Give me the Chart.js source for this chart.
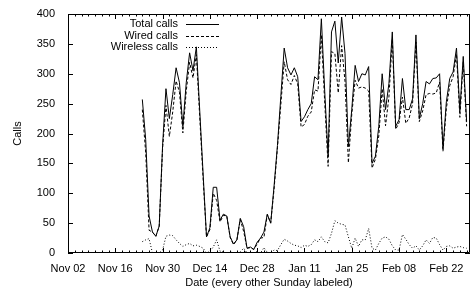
<!DOCTYPE html>
<html>
<head>
<meta charset="utf-8">
<script src="https://cdn.jsdelivr.net/npm/chart.js@4/dist/chart.umd.min.js"></script>
<style>
  html, body { margin: 0; padding: 0; background: #fff; }
</style>
</head>
<body>
<canvas id="calls" width="470" height="290"></canvas>
<script>
// days counted from Sun Nov 02; first sample is Nov 24
var firstDay = 22;
var lastDay = 119;
var tickLabels = ["Nov 02", "Nov 16", "Nov 30", "Dec 14", "Dec 28", "Jan 11", "Jan 25", "Feb 08", "Feb 22"];
var seriesNames = ["Total calls", "Wired calls", "Wireless calls"];

var totalCalls = [
    257, 190, 62, 35, 28, 45, 180, 275, 225, 265, 310, 285, 212, 285, 335, 305,
    345, 238, 132, 27, 42, 110, 110, 55, 65, 62, 27, 15, 22, 58, 44, 8,
    10, 6, 18, 25, 35, 65, 50, 112, 180, 262, 343, 310, 298, 310, 295, 220,
    228, 240, 250, 295, 290, 392, 270, 162, 370, 388, 318, 395, 334, 178, 240, 314,
    287, 300, 298, 312, 150, 162, 212, 300, 240, 284, 370, 212, 223, 292, 240, 240,
    258, 365, 225, 250, 287, 283, 292, 293, 300, 175, 253, 292, 303, 343, 238, 329,
    220
];
var wiredCalls = [
    240, 168, 38, 35, 28, 45, 175, 247, 195, 236, 288, 269, 201, 271, 319, 293,
    332, 227, 124, 27, 39, 100, 88, 52, 63, 62, 26, 14, 22, 56, 36, 8,
    9, 6, 15, 25, 26, 64, 50, 107, 176, 248, 320, 290, 282, 297, 283, 211,
    215, 229, 236, 273, 271, 365, 251, 145, 337, 334, 268, 347, 287, 151, 232, 289,
    276, 278, 276, 271, 142, 157, 196, 275, 213, 261, 358, 207, 218, 261, 217, 226,
    250, 353, 220, 238, 265, 267, 266, 268, 286, 170, 242, 280, 295, 333, 227, 320,
    212
];
var wirelessCalls = [
    19, 22, 24, 0, 0, 0, 5, 28, 30, 29, 22, 16, 11, 14, 16, 12,
    13, 11, 8, 0, 3, 10, 22, 3, 2, 0, 1, 1, 0, 2, 8, 0,
    1, 0, 3, 0, 9, 1, 0, 5, 4, 14, 23, 20, 16, 13, 12, 9,
    13, 11, 14, 22, 19, 27, 19, 17, 33, 54, 50, 48, 47, 27, 8, 25,
    11, 22, 22, 41, 8, 5, 16, 25, 27, 23, 12, 5, 5, 31, 23, 14,
    8, 12, 5, 12, 22, 16, 26, 25, 14, 5, 11, 12, 8, 10, 11, 9,
    8
];

function toPoints(values) {
    return values.map(function (v, i) { return { x: firstDay + i, y: v }; });
}

// gnuplot style frame: border plus inward tics on all four sides, legend inside
var gnuplotFrame = {
    id: "gnuplotFrame",
    afterDraw: function (chart) {
        var ctx = chart.ctx;
        var a = chart.chartArea;
        var xs = chart.scales.x;
        var ys = chart.scales.y;
        ctx.save();
        ctx.strokeStyle = "#000";
        ctx.lineWidth = 1;
        ctx.setLineDash([]);
        ctx.beginPath();
        ctx.rect(a.left + 0.5, a.top + 0.5, a.right - a.left - 1, a.bottom - a.top - 1);
        for (var d = 0; d <= lastDay; d += 2) {
            var px = Math.round(xs.getPixelForValue(d)) + 0.5;
            var len = d % 14 === 0 ? 5 : 2.5;
            ctx.moveTo(px, a.bottom);
            ctx.lineTo(px, a.bottom - len);
            ctx.moveTo(px, a.top);
            ctx.lineTo(px, a.top + len);
        }
        for (var v = 0; v <= 400; v += 50) {
            var py = Math.round(ys.getPixelForValue(v)) + 0.5;
            ctx.moveTo(a.left, py);
            ctx.lineTo(a.left + 5, py);
            ctx.moveTo(a.right, py);
            ctx.lineTo(a.right - 5, py);
        }
        ctx.stroke();

        // legend
        ctx.font = "11px 'Liberation Sans', Arial, sans-serif";
        ctx.fillStyle = "#000";
        ctx.textAlign = "right";
        ctx.textBaseline = "middle";
        chart.data.datasets.forEach(function (ds, i) {
            var y = 24 + i * 11.7;
            ctx.fillText(ds.label, 178, y);
            ctx.beginPath();
            ctx.setLineDash(ds.borderDash || []);
            ctx.moveTo(186, Math.round(y) + 0.5);
            ctx.lineTo(219, Math.round(y) + 0.5);
            ctx.stroke();
        });
        ctx.restore();
    }
};

document.addEventListener("DOMContentLoaded", function () {
    var ctx = document.getElementById("calls").getContext("2d");
    var font = { family: "'Liberation Sans', Arial, sans-serif", size: 11 };

    new Chart(ctx, {
        type: "line",
        data: {
            datasets: [
                {
                    label: seriesNames[0],
                    data: toPoints(totalCalls),
                    borderColor: "#000",
                    borderWidth: 1,
                    borderDash: []
                },
                {
                    label: seriesNames[1],
                    data: toPoints(wiredCalls),
                    borderColor: "#000",
                    borderWidth: 1,
                    borderDash: [3, 2]
                },
                {
                    label: seriesNames[2],
                    data: toPoints(wirelessCalls),
                    borderColor: "#000",
                    borderWidth: 1,
                    borderDash: [1, 2]
                }
            ]
        },
        options: {
            responsive: false,
            animation: false,
            layout: { padding: { top: 14, left: 0, right: -1, bottom: 0 } },
            elements: { point: { radius: 0 }, line: { tension: 0 } },
            plugins: {
                legend: { display: false },
                tooltip: { enabled: false }
            },
            scales: {
                x: {
                    type: "linear",
                    min: 0,
                    max: lastDay,
                    grid: { display: false },
                    border: { display: false },
                    afterFit: function (s) { s.height = 37; },
                    ticks: {
                        stepSize: 14,
                        includeBounds: false,
                        autoSkip: false,
                        maxRotation: 0,
                        padding: 1,
                        color: "#000",
                        font: font,
                        callback: function (value) {
                            return tickLabels[value / 14] || "";
                        }
                    },
                    title: {
                        display: true,
                        text: "Date (every other Sunday labeled)",
                        color: "#000",
                        font: font,
                        padding: { top: 0, bottom: 0 }
                    }
                },
                y: {
                    min: 0,
                    max: 400,
                    grid: { display: false },
                    border: { display: false },
                    afterFit: function (s) { s.width = 68; },
                    ticks: {
                        stepSize: 50,
                        padding: 5,
                        color: "#000",
                        font: font
                    },
                    title: {
                        display: true,
                        text: "Calls",
                        color: "#000",
                        font: font,
                        padding: { top: 11, bottom: 0 }
                    }
                }
            }
        },
        plugins: [gnuplotFrame]
    });
});
</script>
</body>
</html>
